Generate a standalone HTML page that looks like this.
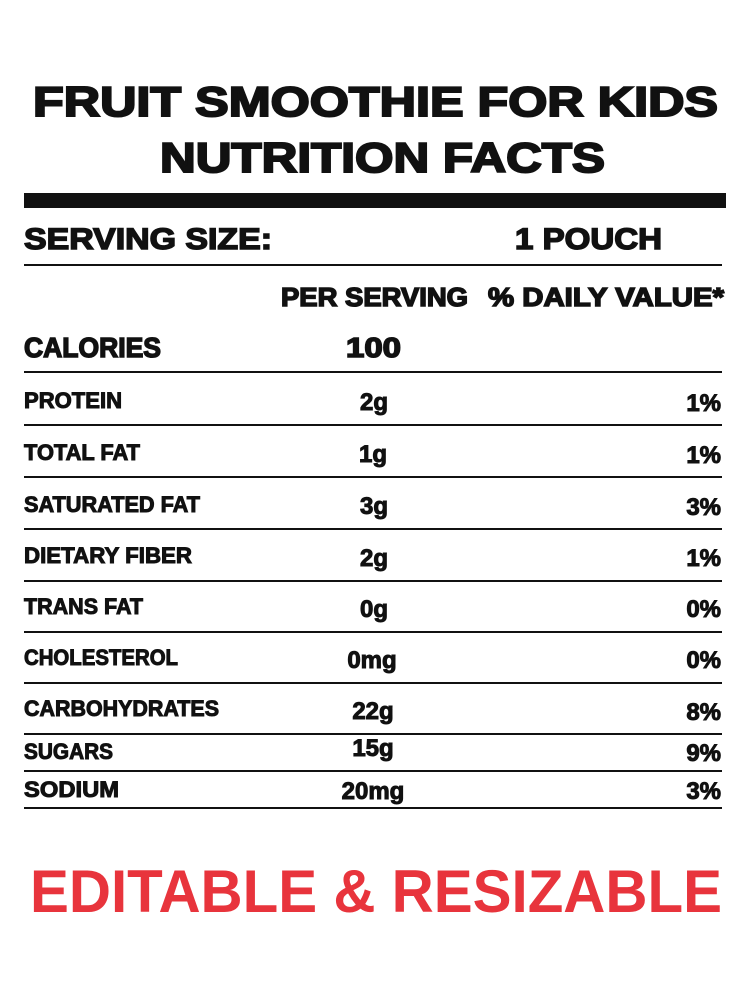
<!DOCTYPE html>
<html><head><meta charset="utf-8"><style>
html,body{margin:0;padding:0;background:#fff;}
svg{display:block;}
text{font-family:"Liberation Sans",sans-serif;font-weight:bold;fill:#111;stroke:#111;stroke-width:1;}
</style></head><body>
<svg width="750" height="1000" viewBox="0 0 750 1000" xmlns="http://www.w3.org/2000/svg">
<rect width="750" height="1000" fill="#fff"/>
<text x="33" y="116" font-size="42" style="stroke-width:2" textLength="685" lengthAdjust="spacingAndGlyphs">FRUIT SMOOTHIE FOR KIDS</text>
<text x="160" y="172" font-size="42" style="stroke-width:2" textLength="445" lengthAdjust="spacingAndGlyphs">NUTRITION FACTS</text>
<rect x="24" y="193" width="702" height="15" fill="#111"/>
<text x="24" y="249" font-size="30" style="stroke-width:1.5" textLength="248" lengthAdjust="spacingAndGlyphs">SERVING SIZE:</text>
<text x="515" y="249" font-size="30" style="stroke-width:1.5" textLength="147" lengthAdjust="spacingAndGlyphs">1 POUCH</text>
<rect x="24" y="264" width="698" height="2" fill="#111"/>
<text x="281" y="306" font-size="26" style="stroke-width:1.5" textLength="187" lengthAdjust="spacingAndGlyphs">PER SERVING</text>
<text x="488" y="306" font-size="26" style="stroke-width:1.5" textLength="236" lengthAdjust="spacingAndGlyphs">% DAILY VALUE*</text>
<text x="24" y="357" font-size="28" style="stroke-width:1.5" textLength="137" lengthAdjust="spacingAndGlyphs">CALORIES</text>
<text x="346" y="357" font-size="28" style="stroke-width:1.5" textLength="55" lengthAdjust="spacingAndGlyphs">100</text>
<g fill="#111">
<rect x="24" y="371" width="698" height="2"/>
<rect x="24" y="424" width="698" height="2"/>
<rect x="24" y="476" width="698" height="2"/>
<rect x="24" y="528" width="698" height="2"/>
<rect x="24" y="580" width="698" height="2"/>
<rect x="24" y="631" width="698" height="2"/>
<rect x="24" y="682" width="698" height="2"/>
<rect x="24" y="733" width="698" height="2"/>
<rect x="24" y="770" width="698" height="2"/>
<rect x="24" y="807" width="698" height="2"/>
</g>
<g font-size="22">
<text x="24" y="408" textLength="98" lengthAdjust="spacingAndGlyphs">PROTEIN</text>
<text x="24" y="460" textLength="116" lengthAdjust="spacingAndGlyphs">TOTAL FAT</text>
<text x="24" y="512" textLength="176" lengthAdjust="spacingAndGlyphs">SATURATED FAT</text>
<text x="24" y="563" textLength="168" lengthAdjust="spacingAndGlyphs">DIETARY FIBER</text>
<text x="24" y="614" textLength="119" lengthAdjust="spacingAndGlyphs">TRANS FAT</text>
<text x="24" y="665" textLength="154" lengthAdjust="spacingAndGlyphs">CHOLESTEROL</text>
<text x="24" y="716" textLength="195" lengthAdjust="spacingAndGlyphs">CARBOHYDRATES</text>
<text x="24" y="759" textLength="89" lengthAdjust="spacingAndGlyphs">SUGARS</text>
<text x="24" y="797" textLength="95" lengthAdjust="spacingAndGlyphs">SODIUM</text>
</g>
<g font-size="24" text-anchor="middle">
<text x="374" y="410">2g</text>
<text x="373" y="462">1g</text>
<text x="374" y="514">3g</text>
<text x="374" y="566">2g</text>
<text x="374" y="617">0g</text>
<text x="372" y="668">0mg</text>
<text x="373" y="719">22g</text>
<text x="373" y="756">15g</text>
<text x="373" y="799">20mg</text>
</g>
<g font-size="24" text-anchor="end">
<text x="721" y="411">1%</text>
<text x="721" y="463">1%</text>
<text x="721" y="515">3%</text>
<text x="721" y="566">1%</text>
<text x="721" y="617">0%</text>
<text x="721" y="668">0%</text>
<text x="721" y="720">8%</text>
<text x="721" y="761">9%</text>
<text x="721" y="799">3%</text>
</g>
<text x="30" y="912" font-size="60" textLength="692" lengthAdjust="spacingAndGlyphs" style="fill:#e8343c;stroke:none">EDITABLE &amp; RESIZABLE</text>
</svg>
</body></html>
